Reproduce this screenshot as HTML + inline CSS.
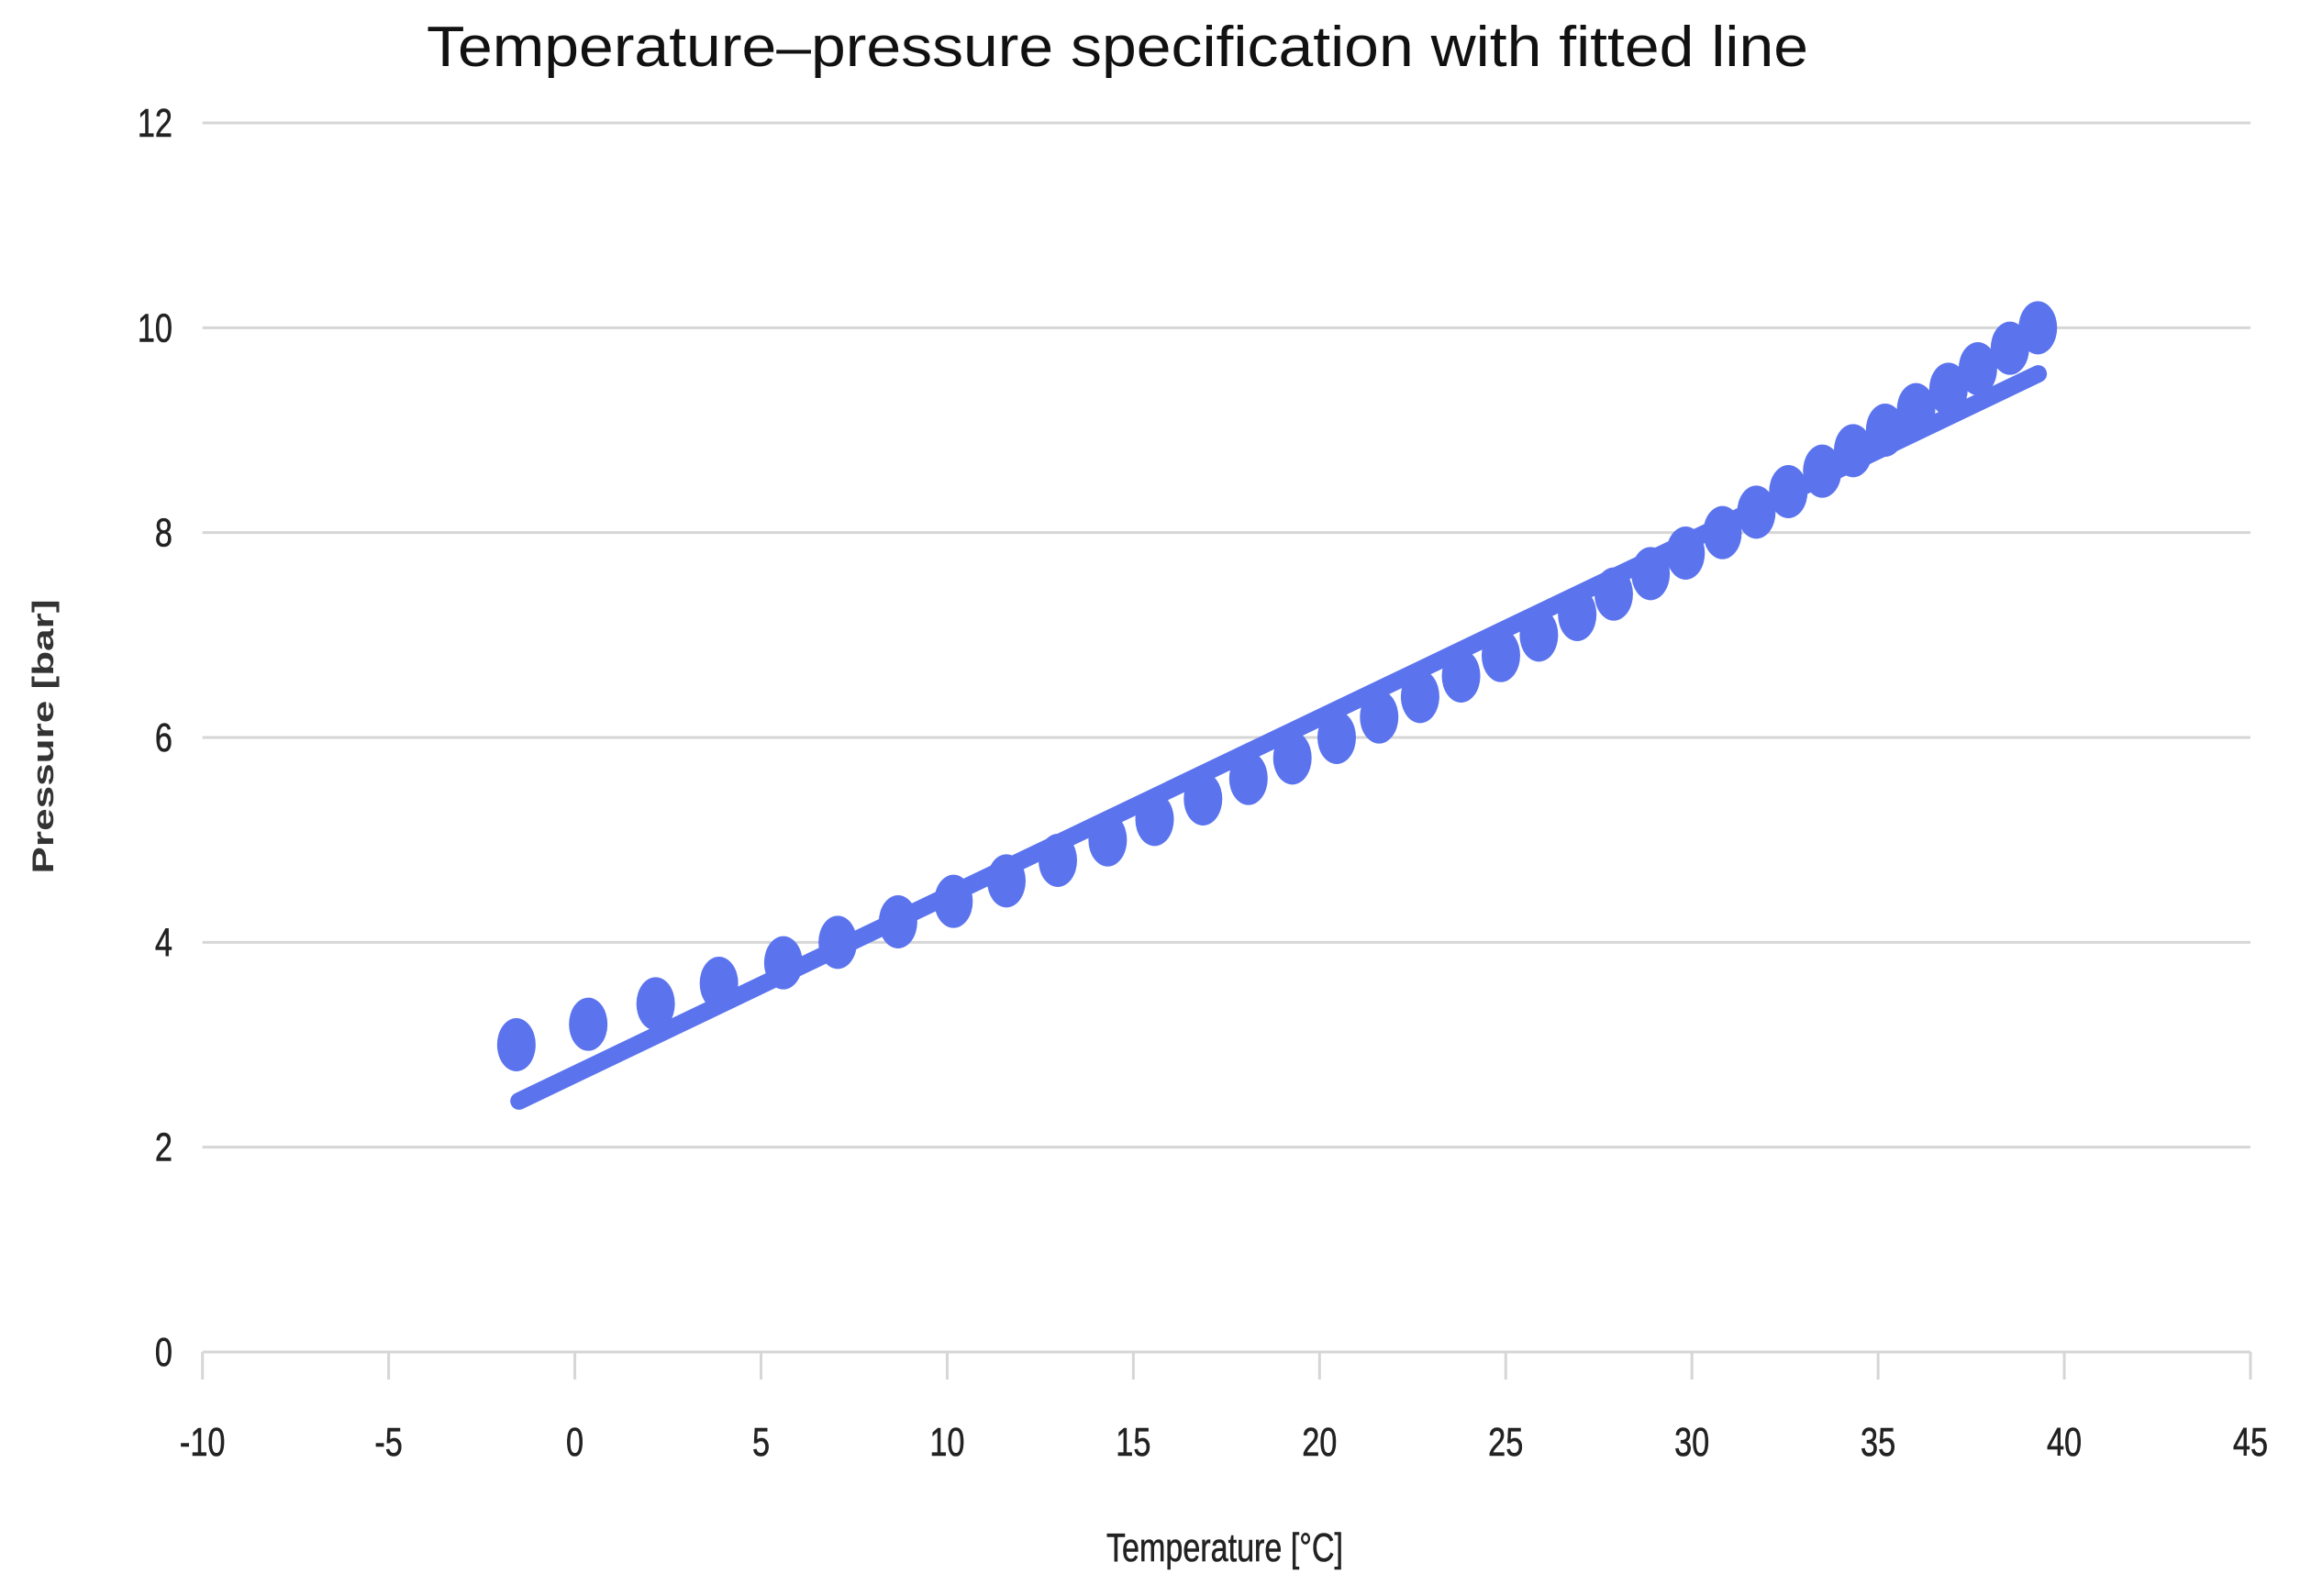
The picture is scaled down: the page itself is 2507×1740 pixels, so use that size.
<!DOCTYPE html>
<html><head><meta charset="utf-8"><style>
html,body{margin:0;padding:0;background:#fff;}
svg{display:block;}
text{font-family:"Liberation Sans",sans-serif;fill:#222;}
</style></head><body>
<svg id="chart" width="2507" height="1740" viewBox="0 0 2507 1740" xmlns="http://www.w3.org/2000/svg">
<rect width="2507" height="1740" fill="#fff"/>
<text x="1218" y="72" font-size="62" text-anchor="middle" textLength="1506" lengthAdjust="spacingAndGlyphs" style="fill:#111">Temperature–pressure specification with fitted line</text>
<g id="grid"></g>
<g id="xticks"></g>
<g id="yticks"></g>
<g id="fit"></g>
<g id="pts"></g>
<text x="1335" y="1702" font-size="44" text-anchor="middle" textLength="258" lengthAdjust="spacingAndGlyphs" style="stroke:#222;stroke-width:0.6">Temperature [°C]</text>
<text transform="translate(58,803) rotate(-90)" font-size="32" font-weight="bold" text-anchor="middle" textLength="299" lengthAdjust="spacingAndGlyphs" style="fill:#333">Pressure [bar]</text>
</svg>
<script>
const xTicks = [-10,-5,0,5,10,15,20,25,30,35,40,45];
const yTicks = [0,2,4,6,8,10,12];
const temps = [-1.57,0.36,2.17,3.87,5.6,7.06,8.68,10.17,11.59,12.97,14.31,15.57,16.87,18.09,19.27,20.46,21.6,22.7,23.8,24.87,25.89,26.92,27.9,28.89,29.83,30.82,31.73,32.59,33.5,34.33,35.19,36.02,36.89,37.68,38.54,39.29];
const pressures = [3.0,3.2,3.4,3.6,3.8,4.0,4.2,4.4,4.6,4.8,5.0,5.2,5.4,5.6,5.8,6.0,6.2,6.4,6.6,6.8,7.0,7.2,7.4,7.6,7.8,8.0,8.2,8.4,8.6,8.8,9.0,9.2,9.4,9.6,9.8,10.0];
const fitX = [-1.5,39.3];
const fitY = [2.45,9.55];

const NS="http://www.w3.org/2000/svg";
const X0=220.7,X1=2453,Y0=1474,Y1=134;
const sx=v=>X0+(v+10)/55*(X1-X0);
const sy=v=>Y0-v/12*(Y0-Y1);
function mk(tag,attrs,parent){const e=document.createElementNS(NS,tag);for(const k in attrs)e.setAttribute(k,attrs[k]);parent.appendChild(e);return e;}
const grid=document.getElementById('grid'),xt=document.getElementById('xticks'),yt=document.getElementById('yticks');
yTicks.forEach(v=>{
  const l=mk('line',{x1:X0,x2:X1,y1:sy(v),y2:sy(v),stroke:'#d6d6d6','stroke-width':3},grid);
  
  
  const t=mk('text',{x:188,y:sy(v)+15,'font-size':44,'text-anchor':'end',style:'stroke:#222;stroke-width:0.6',transform:`translate(188,0) scale(0.78,1) translate(-188,0)`},yt);
  t.textContent=v;
  
  
});
xTicks.forEach(v=>{
  const l=mk('line',{x1:sx(v),x2:sx(v),y1:Y0,y2:Y0+30,stroke:'#d6d6d6','stroke-width':3},xt);
  
  
  const t=mk('text',{x:sx(v),y:1587,'font-size':44,'text-anchor':'middle',style:'stroke:#222;stroke-width:0.6',transform:`translate(${sx(v)},0) scale(0.78,1) translate(${-sx(v)},0)`},xt);
  t.textContent=v;
  
  
});
const fl=mk('line',{x1:sx(fitX[0]),y1:sy(fitY[0]),x2:sx(fitX[1]),y2:sy(fitY[1]),stroke:'#5b74ee','stroke-width':19,'stroke-linecap':'round'},document.getElementById('fit'));


const pg=document.getElementById('pts');
temps.forEach((t,i)=>{
  const e=mk('ellipse',{cx:sx(t),cy:sy(pressures[i]),rx:21,ry:29,fill:'#5b74ee'},pg);
  
  
});
</script>
</body></html>
